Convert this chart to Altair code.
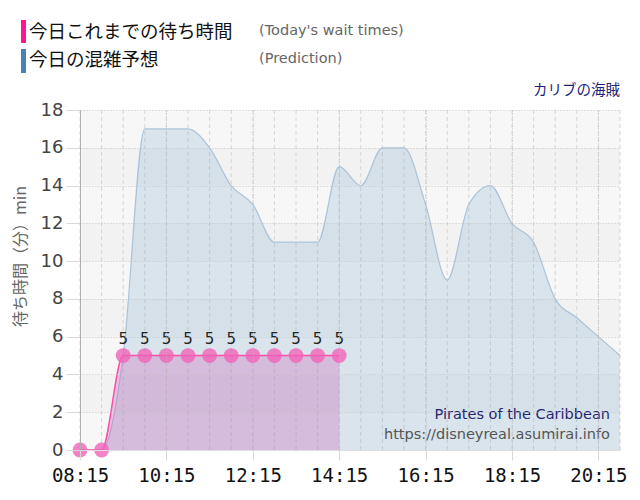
import altair as alt
import pandas as pd

# ---- data ----
times = ["08:15", "08:45", "09:15", "09:45", "10:15", "10:45", "11:15", "11:45",
         "12:15", "12:45", "13:15", "13:45", "14:15", "14:45", "15:15", "15:45",
         "16:15", "16:45", "17:15", "17:45", "18:15", "18:45", "19:15", "19:45",
         "20:15", "20:45"]
prediction = [0, 0, 5, 17, 17, 17, 16, 14, 13, 11, 11, 11, 15, 14, 16, 16,
              13, 9, 13, 14, 12, 11, 8, 7, 6, 5]
wait_times = [0, 0, 5, 5, 5, 5, 5, 5, 5, 5, 5, 5, 5]
x_tick_labels = ["08:15", "10:15", "12:15", "14:15", "16:15", "18:15", "20:15"]
y_ticks = [0, 2, 4, 6, 8, 10, 12, 14, 16, 18]

legend_today = "今日これまでの待ち時間"
legend_today_en = "(Today's wait times)"
legend_pred = "今日の混雑予想"
legend_pred_en = "(Prediction)"
attraction_jp = "カリブの海賊"
attraction_en = "Pirates of the Caribbean"
site_url = "https://disneyreal.asumirai.info"
y_title = "待ち時間（分）min"


def to_min(s):
    h, m = s.split(":")
    return int(h) * 60 + int(m)


mins = [to_min(t) for t in times]
pred_df = pd.DataFrame({"t": mins, "v": prediction})
wait_df = pd.DataFrame({"t": mins[:len(wait_times)], "v": wait_times})
grid_df = pd.DataFrame({"t": mins})
bands_df = pd.DataFrame({
    "y0": y_ticks[:-1],
    "y1": y_ticks[1:],
    "shade": [i % 2 for i in range(len(y_ticks) - 1)],
    "x0": [mins[0]] * (len(y_ticks) - 1),
    "x1": [mins[-1]] * (len(y_ticks) - 1),
})

W, H = 540, 340
x_dom = [mins[0], mins[-1]]
label_expr = ("pad(toString(floor(datum.value/60)),2,'0','left') + ':' + "
              "pad(toString(datum.value%60),2,'0','left')")

xs = alt.Scale(domain=x_dom, nice=False, zero=False)
ys = alt.Scale(domain=[0, 18], nice=False)

x_axis = alt.Axis(values=[to_min(t) for t in x_tick_labels], labelExpr=label_expr,
                  title=None, labelFont="DejaVu Sans Mono", labelFontSize=19,
                  labelColor="#111", labelPadding=6, tickSize=10, tickColor="#d8d8d8",
                  labelFlush=False, labelOverlap=False,
                  domainColor="#dddddd", grid=True, gridColor="#bdbdbd",
                  gridDash=[1, 2], zindex=1)
y_axis = alt.Axis(values=y_ticks, title=y_title, titleFont="Noto Sans CJK JP",
                  titleFontSize=16, titleFontWeight="normal", titleColor="#666",
                  titleAngle=270, titleX=-60, titleY=146, titleAlign="center",
                  titleBaseline="middle", labelFont="DejaVu Sans", labelFontSize=18,
                  labelColor="#444", labelPadding=3, tickSize=14, tickColor="#d8d8d8",
                  labelFlush=False, labelOverlap=False,
                  domainColor="#b0b0b0", grid=True, gridColor="#c4c4c4",
                  gridDash=[1, 2], zindex=1)


def X(f):
    return alt.X(f, scale=xs, axis=x_axis)


def Y(f):
    return alt.Y(f, scale=ys, axis=y_axis)


bands = alt.Chart(bands_df).mark_rect().encode(
    x=X("x0:Q"),
    x2="x1:Q",
    y=Y("y0:Q"),
    y2="y1:Q",
    color=alt.Color("shade:N", scale=alt.Scale(domain=[0, 1], range=["#f7f7f7", "#f2f2f2"]),
                    legend=None),
)

vgrid = alt.Chart(grid_df).mark_rule(color="#d6d6d6", strokeDash=[4, 3], strokeWidth=1).encode(
    x=X("t:Q")
)

pred_area = alt.Chart(pred_df).mark_area(interpolate="monotone", color="#4682b4",
                                         opacity=0.16).encode(x=X("t:Q"), y=Y("v:Q"))
pred_line = alt.Chart(pred_df).mark_line(interpolate="monotone", color="#9cb9d4",
                                         strokeWidth=1.2, opacity=0.8).encode(x=X("t:Q"), y=Y("v:Q"))

wait_area = alt.Chart(wait_df).mark_area(interpolate="monotone", color="#cc66bb",
                                         opacity=0.33).encode(x=X("t:Q"), y=Y("v:Q"))
wait_line = alt.Chart(wait_df).mark_line(interpolate="monotone", color="#ff4fa8",
                                         strokeWidth=1.5).encode(x=X("t:Q"), y=Y("v:Q"))
wait_pts = alt.Chart(wait_df).mark_circle(size=220, color="#f064b8", opacity=0.8).encode(
    x=X("t:Q"), y=Y("v:Q"))
wait_lbl = alt.Chart(wait_df).transform_filter("datum.v > 0").mark_text(
    dy=-17, font="DejaVu Sans", fontSize=15, color="#222"
).encode(x=X("t:Q"), y=Y("v:Q"), text="v:Q")


def note(txt, x, y, size, color, font, align="left"):
    return alt.Chart(pd.DataFrame({"s": [txt]})).mark_text(
        align=align, baseline="middle", fontSize=size, color=color, font=font
    ).encode(text="s:N", x=alt.value(x), y=alt.value(y))


def bar(color, y0, y1):
    return alt.Chart(pd.DataFrame({"s": [0]})).mark_rect(color=color).encode(
        x=alt.value(-59), x2=alt.value(-54), y=alt.value(y0), y2=alt.value(y1)
    )


notes = [
    bar("#ff1493", -90, -67),
    bar("#4682b4", -61, -37),
    note(legend_today, -51, -78, 18.5, "#111", "Noto Sans CJK JP"),
    note(legend_pred, -51, -50, 18.5, "#111", "Noto Sans CJK JP"),
    note(legend_today_en, 179, -79, 14.5, "#666", "DejaVu Sans"),
    note(legend_pred_en, 179, -51, 14.5, "#666", "DejaVu Sans"),
    note(attraction_jp, 540, -19, 14.5, "#1e1e78", "Noto Sans CJK JP", "right"),
    note(attraction_en, 530, 305, 14.5, "#24246e", "DejaVu Sans", "right"),
    note(site_url, 530, 325, 14.5, "#555", "DejaVu Sans", "right"),
]

chart = alt.layer(bands, vgrid, pred_area, pred_line, wait_area, wait_line,
                  wait_pts, wait_lbl, *notes).properties(
    width=W, height=H,
    autosize=alt.AutoSizeParams(type="none"),
    padding={"left": 72, "top": 102, "right": 12, "bottom": 40},
    background="white",
).configure_view(strokeWidth=0)

chart.save("out.html", embed_options={"renderer": "svg", "actions": False})
